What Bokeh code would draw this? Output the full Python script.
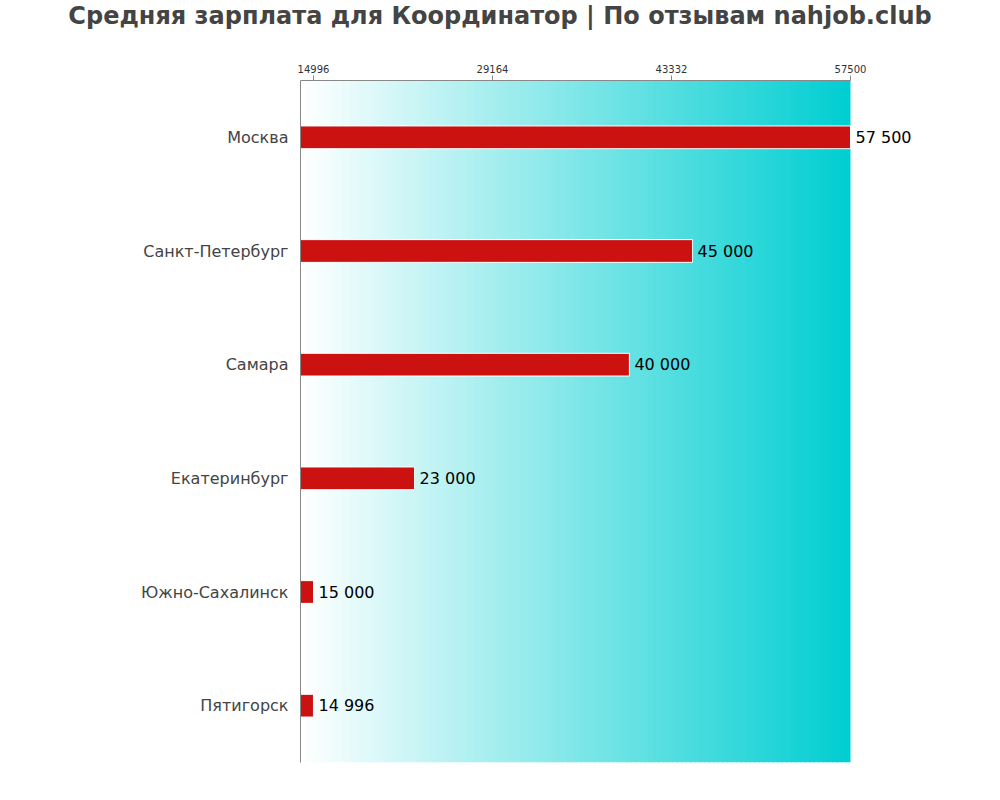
from bokeh.plotting import figure
from bokeh.models import (FactorRange, Range1d, LinearAxis, FixedTicker, BoxAnnotation,
                          ColumnDataSource, LabelSet, BasicTickFormatter, Div)
from bokeh.layouts import column
from bokeh.core.properties import value
from bokeh.embed import file_html
from bokeh.resources import INLINE

title_text = "Средняя зарплата для Координатор | По отзывам nahjob.club"
cities = ["Москва", "Санкт-Петербург", "Самара", "Екатеринбург", "Южно-Сахалинск", "Пятигорск"]
salaries = [57500, 45000, 40000, 23000, 15000, 14996]
tick_values = [14996, 29164, 43332, 57500]
x_start = 13970
x_end = 57500

labels = [f"{v:,}".replace(",", " ") for v in salaries]
src = ColumnDataSource(dict(city=cities, salary=salaries, label=labels))

span = x_end - x_start
# frame extends beyond the data area so that the value labels have room
frame_end = x_start + span * 1.2

p = figure(width=1000, height=760, output_backend="svg", toolbar_location=None,
           y_range=FactorRange(factors=list(reversed(cities))),
           x_range=Range1d(x_start, frame_end),
           x_axis_location=None, min_border_left=300, min_border_right=40,
           min_border_top=40, min_border_bottom=38)
p.outline_line_color = None
p.background_fill_color = "white"
p.xgrid.visible = False
p.ygrid.visible = False

# gradient background
n = 120
c0 = (255, 255, 255)
c1 = (0, 206, 209)
for i in range(n):
    f = (i + 0.5) / n
    col = tuple(int(round(c0[k] + (c1[k] - c0[k]) * f)) for k in range(3))
    left = x_start + span * i / n
    right = x_start + span * (i + 1) / n + (span / n * 0.3 if i < n - 1 else 0)
    p.add_layout(BoxAnnotation(left=left, right=right, fill_color="#%02x%02x%02x" % col,
                               fill_alpha=1, line_color=None, level="underlay"))

p.hbar(y="city", right="salary", left=x_start, height=0.2, source=src,
       fill_color="#cc1111", line_color="white", line_width=1)

p.add_layout(LabelSet(x="salary", y="city", text="label", source=src, x_offset=5,
                      text_baseline="middle", text_align="left", text_font_size="16px",
                      text_color="black", text_font=value("DejaVu Sans")))

# top axis
top = LinearAxis(ticker=FixedTicker(ticks=tick_values), bounds=(x_start, x_end))
top.major_label_text_font_size = "10px"
top.major_label_text_color = "#333333"
top.major_label_text_font = "DejaVu Sans"
top.axis_line_color = "#888888"
top.major_tick_line_color = "#888888"
top.major_tick_out = 5
top.major_tick_in = 0
top.minor_tick_line_color = None
top.major_label_standoff = 3
top.formatter = BasicTickFormatter(use_scientific=False)
p.add_layout(top, "above")

ya = p.yaxis[0]
ya.major_label_text_font_size = "16px"
ya.major_label_text_color = "#444444"
ya.major_label_text_font = "DejaVu Sans"
ya.axis_line_color = "#888888"
ya.major_tick_line_color = None
ya.minor_tick_line_color = None
ya.major_label_standoff = 6

div = Div(text=title_text, width=1000, height=40, margin=(0, 0, 0, 0),
          styles={"font-family": "DejaVu Sans", "font-size": "24px", "font-weight": "bold",
                  "color": "#444444", "text-align": "center", "width": "1000px",
                  "line-height": "32px"})

layout = column(div, p, spacing=0)
open("out.html", "w").write(file_html(layout, INLINE))
